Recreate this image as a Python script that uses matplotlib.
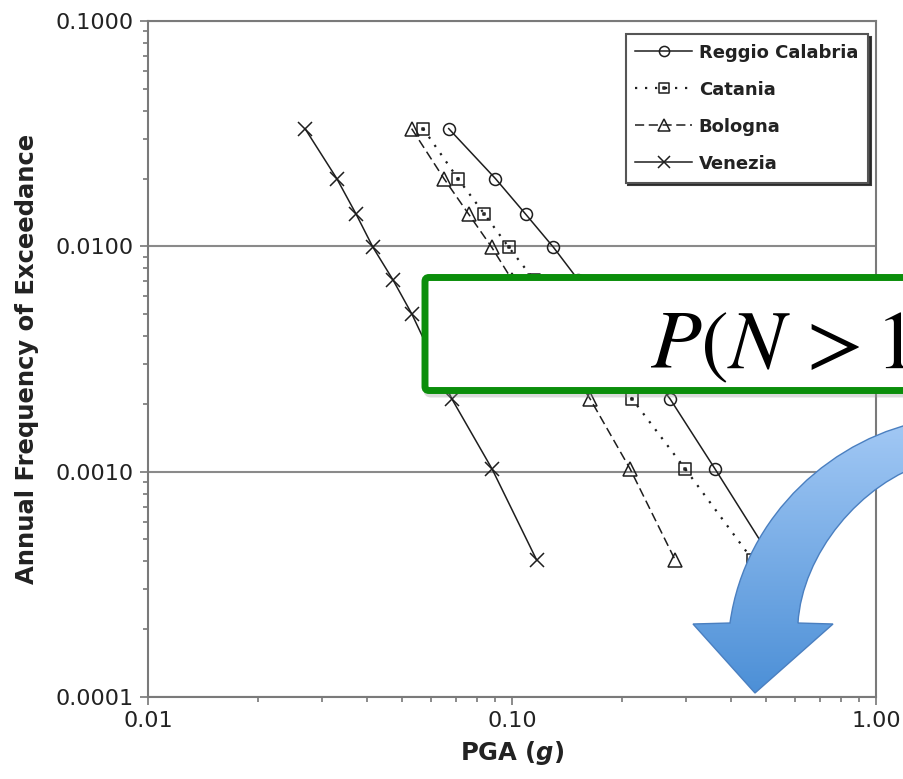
import numpy as np
import matplotlib
matplotlib.use('Agg')
import matplotlib.pyplot as plt
from matplotlib.path import Path
from matplotlib.patches import PathPatch, FancyBboxPatch
from matplotlib.colors import LinearSegmentedColormap
from matplotlib.ticker import FixedLocator, LogLocator, FuncFormatter, NullFormatter

# Annual frequency of exceedance (return periods 30 ... 2475 years)
afe = [0.0333, 0.0200, 0.0139, 0.0099, 0.0071, 0.0050, 0.0021, 0.00103, 0.000404]

# PGA (g) for each site
pga_reggio = [0.067, 0.090, 0.109, 0.130, 0.152, 0.180, 0.272, 0.361, 0.52]
pga_catania = [0.057, 0.071, 0.084, 0.098, 0.115, 0.138, 0.214, 0.299, 0.459]
pga_bologna = [0.053, 0.065, 0.076, 0.088, 0.100, 0.116, 0.164, 0.211, 0.281]
pga_venezia = [0.027, 0.033, 0.0373, 0.0415, 0.0471, 0.0531, 0.0684, 0.0881, 0.117]

sites = ['Reggio Calabria', 'Catania', 'Bologna', 'Venezia']

plt.rcParams['mathtext.fontset'] = 'custom'
plt.rcParams['mathtext.it'] = 'DejaVu Sans:italic:bold'

W, H = 904, 779
fig = plt.figure(figsize=(W / 100, H / 100), dpi=100)
ax = fig.add_axes([148 / W, 82 / H, 728 / W, 676 / H])

ink = '#1e1e1e'
# square marker with a small dot in the middle
M, L, C = Path.MOVETO, Path.LINETO, Path.CLOSEPOLY
sq_dot = Path([(-1, -1), (1, -1), (1, 1), (-1, 1), (-1, -1),
               (-0.12, -0.12), (0.12, -0.12), (0.12, 0.12), (-0.12, 0.12), (-0.12, -0.12)],
              [M, L, L, L, C, M, L, L, L, C])

common = dict(color=ink, lw=1.1, mfc='none', mec=ink, mew=1.1)
ax.plot(pga_reggio, afe, marker='o', ms=8.6, ls='-', label=sites[0], **common)
ax.plot(pga_catania, afe, marker=sq_dot, ms=8.6, ls=(0, (1, 3.5)), label=sites[1],
        **{**common, 'lw': 1.6})
ax.plot(pga_bologna, afe, marker='^', ms=9.5, ls=(0, (6, 3)), label=sites[2], **common)
ax.plot(pga_venezia, afe, marker='x', ms=10, ls='-', label=sites[3], **common)

ax.set_xscale('log')
ax.set_yscale('log')
ax.set_xlim(0.01, 1.0)
ax.set_ylim(0.0001, 0.1)

ax.xaxis.set_major_locator(FixedLocator([0.01, 0.1, 1.0]))
ax.xaxis.set_major_formatter(FuncFormatter(lambda v, p: f'{v:.2f}'))
ax.xaxis.set_minor_locator(LogLocator(base=10, subs=range(2, 10)))
ax.xaxis.set_minor_formatter(NullFormatter())
ax.yaxis.set_major_locator(FixedLocator([0.0001, 0.001, 0.01, 0.1]))
ax.yaxis.set_major_formatter(FuncFormatter(lambda v, p: f'{v:.4f}'))
ax.yaxis.set_minor_locator(LogLocator(base=10, subs=range(2, 10)))
ax.yaxis.set_minor_formatter(NullFormatter())

ax.tick_params(which='major', direction='out', length=6, width=1.2, color='#777777',
               labelsize=16, pad=4, labelcolor='#222222')
ax.tick_params(which='minor', direction='out', length=3.5, width=1.2, color='#777777')
ax.yaxis.grid(True, which='major', color='#8a8a8a', lw=1.5)
ax.xaxis.grid(False)
for sp in ax.spines.values():
    sp.set_color('#7a7a7a')
    sp.set_linewidth(1.5)

ax.set_ylabel('Annual Frequency of Exceedance', fontsize=17.5, fontweight='bold',
              color='#222222', labelpad=12)
ax.set_xlabel('PGA ($g$)', fontsize=17.5, fontweight='bold', color='#222222', labelpad=6)

leg = ax.legend(loc='upper right', bbox_to_anchor=(0.989, 0.981), borderaxespad=0,
                fancybox=False, framealpha=1, edgecolor='#555555',
                shadow={'color': '0.15', 'alpha': 0.9},
                prop={'size': 13, 'weight': 'bold'}, handlelength=3.15,
                handletextpad=0.35, labelspacing=1.05, borderpad=0.55, markerscale=0.85)
leg.get_frame().set_linewidth(1.5)
for t in leg.get_texts():
    t.set_color('#222222')

# overlay layer in pixel coordinates
ov = fig.add_axes([0, 0, 1, 1])
ov.set_zorder(5)
ov.axis('off')

shadow = FancyBboxPatch((427, 281), 560, 113, boxstyle='round,pad=0,rounding_size=4',
                        fc='none', ec='#999999', lw=5, alpha=0.35)
ov.add_patch(shadow)
box = FancyBboxPatch((425, 277.5), 560, 113, boxstyle='round,pad=0,rounding_size=4',
                     fc='white', ec='#0b8e0b', lw=5)
ov.add_patch(box)
ov.text(650, 368, r'$P(N\,>1)$', fontsize=60, math_fontfamily='stix',
        ha='left', va='baseline', color='black')

verts = [(930, 420), (835, 435), (745, 515), (730, 623),
         (693, 624), (755, 693), (833, 624), (798, 623),
         (802, 555), (860, 482), (930, 462), (930, 420)]
codes = [Path.MOVETO, Path.CURVE4, Path.CURVE4, Path.CURVE4,
         Path.LINETO, Path.LINETO, Path.LINETO, Path.LINETO,
         Path.CURVE4, Path.CURVE4, Path.CURVE4, Path.CLOSEPOLY]
arrow = PathPatch(Path(verts, codes), fc='none', ec='#4a7fc0', lw=1, zorder=3)
ov.add_patch(arrow)
grad = np.linspace(0, 1, 256).reshape(-1, 1)
cmap = LinearSegmentedColormap.from_list('arrow_blue', ['#a6cbf6', '#4a8ed6'])
img = ov.imshow(grad, cmap=cmap, extent=(680, 940, 700, 410), aspect='auto', zorder=2)
img.set_clip_path(arrow)

ov.set_xlim(0, W)
ov.set_ylim(H, 0)

fig.savefig('out.png', dpi=100)
